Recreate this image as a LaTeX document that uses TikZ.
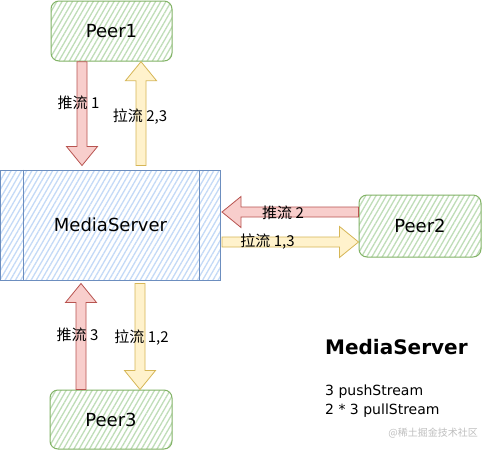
\documentclass[tikz,border=0pt]{standalone}
\usepackage{fontspec}
\setmainfont{DejaVu Sans}
\newfontfamily\cjk{Noto Sans CJK SC}
\usetikzlibrary{calc,patterns.meta}
\definecolor{gfill}{HTML}{D5E8D4}
\definecolor{gline}{HTML}{82B366}
\definecolor{ghatch}{HTML}{BFDDB8}
\definecolor{bfill}{HTML}{DAE8FC}
\definecolor{bline}{HTML}{6C8EBF}
\definecolor{bhatch}{HTML}{C4DAF7}
\definecolor{rfill}{HTML}{F8CECC}
\definecolor{rline}{HTML}{B85450}
\definecolor{yfill}{HTML}{FFF2CC}
\definecolor{yline}{HTML}{D6B656}
\tikzset{
  peer/.style={draw=gline, line width=1pt, rounded corners=8pt,
    pattern={Lines[angle=60,distance=4.5pt,line width=1.3pt]}, pattern color=ghatch,
    inner sep=0pt, font=\fontsize{18}{20}\selectfont},
  server/.style={draw=bline, line width=1pt,
    pattern={Lines[angle=60,distance=4.5pt,line width=1.3pt]}, pattern color=bhatch,
    inner sep=0pt, font=\fontsize{18}{20}\selectfont},
  push/.style={fill=rfill, draw=rline, line width=0.8pt},
  pull/.style={fill=yfill, draw=yline, line width=0.8pt},
  lbl/.style={font=\cjk\fontsize{15}{16}\selectfont, inner sep=0pt},
  note/.style={font=\fontsize{14}{16}\selectfont, inner sep=0pt, anchor=west}
}
\newcommand\fatarrow[3]{%
  \coordinate (fa-n) at ($(#3)!19pt!(#2)$);
  \filldraw[#1] ($(#2)!5pt!90:(#3)$) -- ($(fa-n)!5pt!90:(#3)$) -- ($(fa-n)!15.5pt!90:(#3)$)
    -- (#3) -- ($(fa-n)!15.5pt!-90:(#3)$) -- ($(fa-n)!5pt!-90:(#3)$) -- ($(#2)!5pt!-90:(#3)$) -- cycle;
}
\begin{document}
\begin{tikzpicture}[x=1pt,y=-1pt]
\useasboundingbox (0,0) rectangle (491,451);
\fill[white] (0,0) rectangle (491,451);
% nodes
\node[peer, minimum width=121pt, minimum height=60pt] (p1) at (111.5,31) {Peer1};
\node[server, minimum width=220pt, minimum height=110pt] (ms) at (110.5,225) {MediaServer};
\draw[bline, line width=1pt] ($(ms.north west)+(23,0)$) coordinate (msl1) -- (msl1 |- ms.south);
\draw[bline, line width=1pt] ($(ms.north east)+(-22,0)$) coordinate (msl2) -- (msl2 |- ms.south);
\node[peer, minimum width=122pt, minimum height=62pt] (p2) at (420,226) {Peer2};
\node[peer, minimum width=122pt, minimum height=59pt] (p3) at (111,419.5) {Peer3};
% arrow end points
\coordinate (a1s) at ($(p1.south)+(-29.5,0)$);
\coordinate (a1e) at ($(a1s |- ms.north)+(0,-4)$);
\coordinate (a2s) at ($(p1.south)+(29.5,0)$);
\coordinate (a2e) at ($(a2s |- ms.north)+(0,-4)$);
\coordinate (a3s) at ($(p2.west)+(0,-14)$);
\coordinate (a3e) at ($(a3s -| ms.east)+(1,0)$);
\coordinate (a4s) at ($(p2.west)+(0,16)$);
\coordinate (a4e) at ($(a4s -| ms.east)+(1,0)$);
\coordinate (a5s) at ($(p3.north)+(-30,0)$);
\coordinate (a5e) at ($(a5s |- ms.south)+(0,3)$);
\coordinate (a6s) at ($(p3.north)+(29,0)$);
\coordinate (a6e) at ($(a6s |- ms.south)+(0,3)$);
% connectors
\fatarrow{push}{a1s}{a1e}
\fatarrow{pull}{a2e}{a2s}
\fatarrow{push}{a3s}{a3e}
\fatarrow{pull}{a4e}{a4s}
\fatarrow{push}{a5s}{a5e}
\fatarrow{pull}{a6e}{a6s}
% labels
\node[lbl] (l1) at (78.5,103) {推流 1};
\node[lbl] (l2) at (140,117) {拉流 2,3};
\node[lbl] (l3) at (283,213) {推流 2};
\node[lbl] (l4) at (267.5,242) {拉流 1,3};
\node[lbl] (l5) at (77.5,335) {推流 3};
\node[lbl] (l6) at (141.5,338) {拉流 1,2};
% legend
\node[note, font=\bfseries\fontsize{20}{22}\selectfont] (t1) at (325,347) {MediaServer};
\node[note] (t2) at (325,392) {3 pushStream};
\node[note] (t3) at (325,411) {2 * 3 pullStream};
\node[font=\cjk\fontsize{10}{12}\selectfont, text=black!25, inner sep=0pt, anchor=east] (wm) at (478,433) {@稀土掘金技术社区};
\end{tikzpicture}
\end{document}
